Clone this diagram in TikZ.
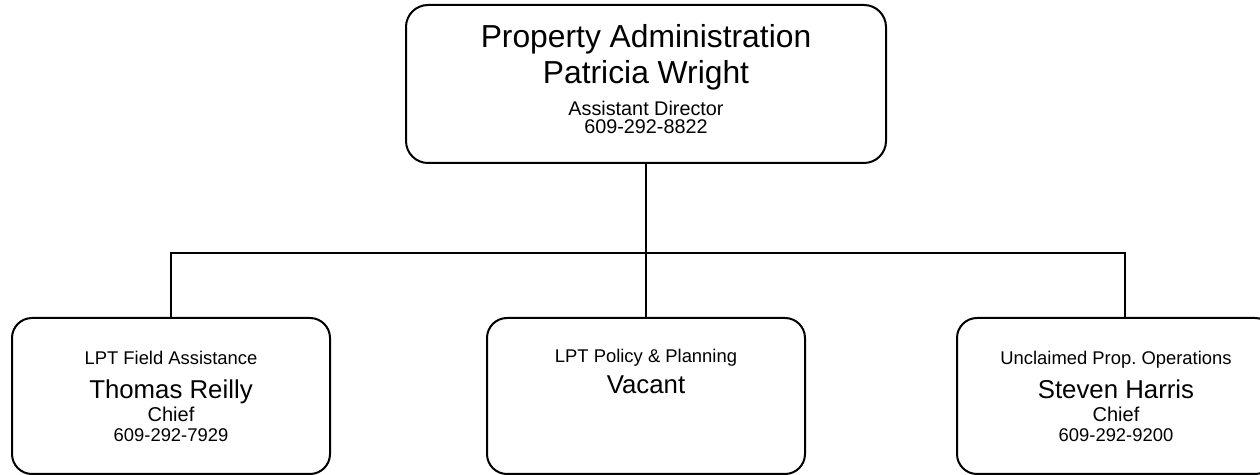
\documentclass[tikz,border=0pt]{standalone}
\usepackage{fontspec}
\setmainfont{Liberation Sans}
\usetikzlibrary{shapes,arrows}
\frenchspacing
\newcommand{\boxfont}[1]{\fontsize{#1}{0pt}\selectfont\lineskiplimit=-\maxdimen}
\tikzstyle{head} = [rectangle, draw, line width=1pt, rounded corners=11pt,
    minimum width=240pt, minimum height=79pt, inner sep=0pt, align=center,
    font=\boxfont{9.9}]
\tikzstyle{unit} = [rectangle, draw, line width=1pt, rounded corners=10pt,
    minimum width=159pt, minimum height=78pt, inner sep=0pt, align=center,
    font=\boxfont{9.2}]
\tikzstyle{line} = [draw, line width=1pt]
\begin{document}
\begin{tikzpicture}[x=0.5pt, y=-0.5pt]
    \useasboundingbox (0,0) rectangle (1260,475);
    \clip (0,0) rectangle (1260,475);
    % Place nodes
    % Head
    \node [head] (PA) at (646,84) {{\boxfont{15.9}Property Administration}\\[18pt]{\boxfont{15.9}Patricia Wright}\\[16pt]Assistant Director\\[9pt]609-292-8822\\[5.5pt]\mbox{}};

    % Units
    \node [unit] (TR) at (171,396) {LPT Field Assistance\\[17pt]{\boxfont{12.9}Thomas Reilly}\\[11.5pt]{\boxfont{10}Chief}\\[10pt]609-292-7929};
    \node [unit] (PP) at (646,396) {LPT Policy \& Planning\\[15.5pt]{\boxfont{12.9}Vacant}\\[25pt]\mbox{}};
    \node [unit] (SH) at (1116,396) {Unclaimed Prop. Operations\\[17pt]{\boxfont{12.9}Steven Harris}\\[11.5pt]{\boxfont{10}Chief}\\[10pt]609-292-9200};
    \coordinate (hub) at (646,253);

    % Draw edges
    \path [line] (PA) -- (PP);
    \path [line] (TR.north) |- (hub) -| ([xshift=4.5pt]SH.north);
\end{tikzpicture}
\end{document}
